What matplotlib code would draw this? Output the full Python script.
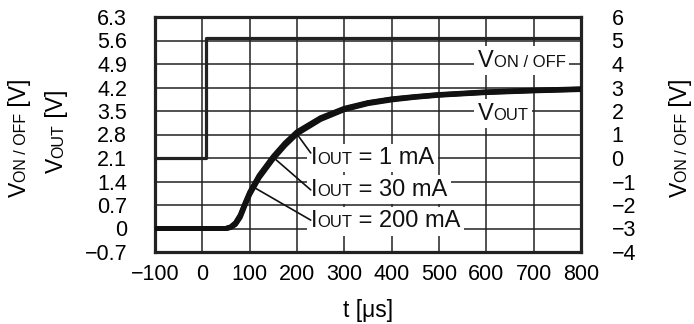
import matplotlib
matplotlib.use('Agg')
import matplotlib.pyplot as plt
from matplotlib.font_manager import FontProperties
from matplotlib.offsetbox import TextArea, HPacker, AnnotationBbox
from matplotlib.transforms import offset_copy

plt.rcParams['font.family'] = ['Liberation Sans', 'DejaVu Sans']
plt.rcParams['axes.unicode_minus'] = True

# VOUT traces (left axis), three load currents that nearly overlap
t_out = [-100, 0, 50, 60, 70, 80, 90, 100, 120, 150, 175, 200, 250, 300, 350, 400, 450, 500, 600, 700, 800]
vout_1ma = [0, 0, 0, 0.05, 0.17, 0.40, 0.75, 1.08, 1.58, 2.15, 2.55, 2.88, 3.30, 3.58, 3.75, 3.86, 3.93, 3.99, 4.07, 4.12, 4.16]
vout_30ma = [0, 0, 0, 0.04, 0.15, 0.37, 0.72, 1.05, 1.55, 2.12, 2.52, 2.85, 3.28, 3.56, 3.74, 3.85, 3.92, 3.98, 4.06, 4.11, 4.15]
vout_200ma = [0, 0, 0, 0.03, 0.12, 0.33, 0.68, 1.01, 1.51, 2.08, 2.48, 2.82, 3.25, 3.54, 3.72, 3.83, 3.91, 3.97, 4.05, 4.10, 4.14]

# VON/OFF step (right axis)
t_on = [-100, 8, 8, 800]
v_on = [0, 0, 5.1, 5.1]

x_ticks = [-100, 0, 100, 200, 300, 400, 500, 600, 700, 800]
left_ticks = [-0.7, 0, 0.7, 1.4, 2.1, 2.8, 3.5, 4.2, 4.9, 5.6, 6.3]
left_labels = ['\u22120.7', '0', '0.7', '1.4', '2.1', '2.8', '3.5', '4.2', '4.9', '5.6', '6.3']
right_ticks = [-4, -3, -2, -1, 0, 1, 2, 3, 4, 5, 6]
right_labels = ['\u22124', '\u22123', '\u22122', '\u22121', '0', '1', '2', '3', '4', '5', '6']

W, H = 694, 324
ink = '#222222'
fig = plt.figure(figsize=(W / 100, H / 100), dpi=100)
ax = fig.add_axes([155 / W, 1 - 252 / H, (581 - 155) / W, (252 - 17) / H])
ax2 = ax.twinx()

ax.set_xlim(-100, 800)
ax.set_ylim(-0.7, 6.3)
ax2.set_ylim(-4, 6)
ax.set_xticks(x_ticks)
ax.set_yticks(left_ticks)
ax.set_yticklabels(left_labels)
ax2.set_yticks(right_ticks)
ax2.set_yticklabels(right_labels)
ax.grid(True, color=ink, lw=1.1)
ax.set_axisbelow(True)
ax.tick_params(axis='y', length=0, pad=20, labelsize=15.5)
ax.tick_params(axis='x', length=0, pad=8.5, labelsize=15.5)
ax2.tick_params(axis='y', length=0, pad=22, labelsize=15.5)
for s in ax.spines.values():
    s.set_linewidth(2.3)
    s.set_color(ink)
for s in ax2.spines.values():
    s.set_visible(False)

ax.plot(t_out, vout_200ma, color='#111111', lw=3.6, zorder=4, solid_capstyle='butt')
ax.plot(t_out, vout_30ma, color='#111111', lw=3.6, zorder=4, solid_capstyle='butt')
ax.plot(t_out, vout_1ma, color='#111111', lw=3.6, zorder=4, solid_capstyle='butt')
ax2.plot(t_on, v_on, color=ink, lw=2.3, solid_joinstyle='round', zorder=4)


def inline_label(t, v, parts):
    kids = [TextArea(s, textprops=dict(fontsize=size, color='#111111')) for s, size in parts]
    box = HPacker(children=kids, align='baseline', pad=0, sep=0)
    ab = AnnotationBbox(box, (t, v), xycoords='data', box_alignment=(0, 0.5),
                        frameon=True, pad=0.25, fontsize=10,
                        bboxprops=dict(facecolor='white', edgecolor='none'))
    ab.set_zorder(3)
    ax.add_artist(ab)


inline_label(582, 5.0, [('V', 17), ('ON / OFF', 12)])
inline_label(582, 3.42, [('V', 17), ('OUT', 12)])
inline_label(229, 2.1, [('I', 17), ('OUT', 12), (' = 1 mA', 17)])
inline_label(229, 1.15, [('I', 17), ('OUT', 12), (' = 30 mA', 17)])
inline_label(229, 0.22, [('I', 17), ('OUT', 12), (' = 200 mA', 17)])

# leader lines from labels to the curves
leaders = [((229, 2.25), (197, 2.87)), ((229, 1.15), (149, 2.13)), ((229, 0.25), (111, 1.21))]
for start, end in leaders:
    ax.annotate('', xy=end, xytext=start,
                arrowprops=dict(arrowstyle='-', lw=1.2, color='#111111', shrinkA=0, shrinkB=0),
                zorder=5)

fig.text(368 / W, 1 - 310 / H, 't [\u03bcs]', fontsize=16.5, ha='center', va='center')

renderer = fig.canvas.get_renderer()


def measure(s, size):
    fp = FontProperties(family='Liberation Sans', size=size)
    w1 = renderer.get_text_width_height_descent('x' + s + 'x', fp, ismath=False)[0]
    w0 = renderer.get_text_width_height_descent('xx', fp, ismath=False)[0]
    return w1 - w0


def vertical_label(x_px, y_px, parts):
    pos = 0
    for s, size in parts:
        tr = offset_copy(fig.transFigure, fig=fig, x=0, y=pos, units='dots')
        fig.text(x_px / W, 1 - y_px / H, s, fontsize=size, rotation=90, rotation_mode='anchor',
                 ha='left', va='baseline', transform=tr)
        pos += measure(s, size)


vertical_label(26, 197, [('V', 16.5), ('ON / OFF', 11.5), (' [V]', 16.5)])
vertical_label(63, 173, [('V', 16.5), ('OUT', 11.5), (' [V]', 16.5)])
vertical_label(687, 197, [('V', 16.5), ('ON / OFF', 11.5), (' [V]', 16.5)])

fig.savefig('out.png', dpi=100)
